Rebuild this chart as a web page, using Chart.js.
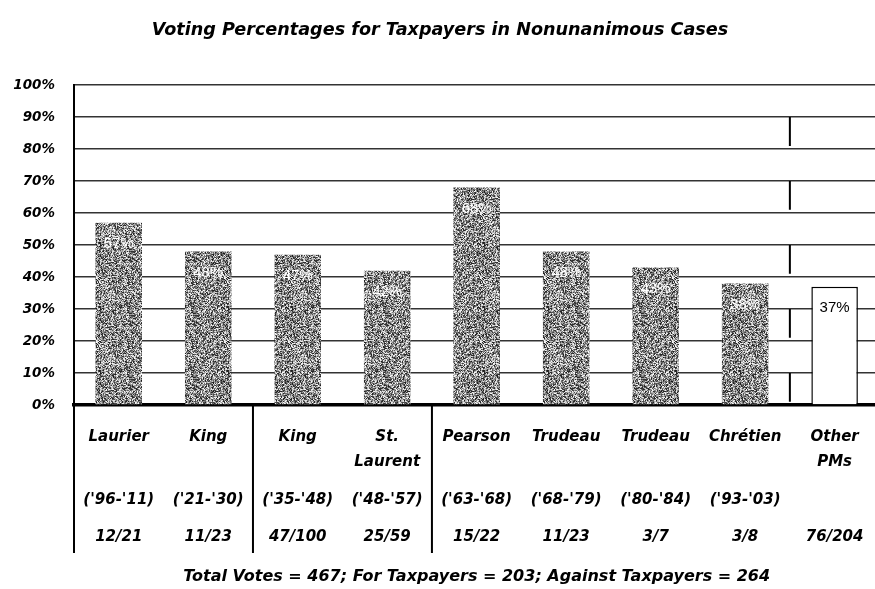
<!DOCTYPE html>
<html>
<head>
<meta charset="utf-8">
<title>Voting Percentages for Taxpayers</title>
<script src="https://cdn.jsdelivr.net/npm/chart.js@4.4.0/dist/chart.umd.min.js"></script>
<style>
  body { margin: 0; background: #fff; overflow: hidden; }
</style>
</head>
<body>
<canvas id="chart" width="890" height="589"></canvas>
<script>
var names = ['Laurier', 'King', 'King', 'St.', 'Pearson', 'Trudeau', 'Trudeau', 'Chrétien', 'Other']
var names2 = ['', '', '', 'Laurent', '', '', '', '', 'PMs']
var terms = ["('96-'11)", "('21-'30)", "('35-'48)", "('48-'57)", "('63-'68)", "('68-'79)", "('80-'84)", "('93-'03)", '']
var votes = ['12/21', '11/23', '47/100', '25/59', '15/22', '11/23', '3/7', '3/8', '76/204']
var percents = [57, 48, 47, 42, 68, 48, 43, 38, 37]
var footer = 'Total Votes = 467; For Taxpayers = 203; Against Taxpayers = 264'

var heavy = 'DejaVu Sans'

// multi-line tick labels, blank lines used as spacers
var labels = names.map(function(n, i){
    return [n, '', names2[i], '', '', terms[i], '', '', votes[i]]
})

// grainy grey fill like the scanned original
function speckle(){
    var c = document.createElement('canvas')
    c.width = 64; c.height = 64
    var g = c.getContext('2d')
    var img = g.createImageData(64, 64)
    for (var i = 0; i < img.data.length; i += 4) {
        var f = Math.sin(i * 12.9898 + 78.233) * 43758.5453
        f = f - Math.floor(f)
        var v = Math.floor(25 + f * 230)
        img.data[i] = v; img.data[i+1] = v; img.data[i+2] = v; img.data[i+3] = 255
    }
    g.putImageData(img, 0, 0)
    return g.createPattern(c, 'repeat')
}

var ctx = document.getElementById('chart').getContext('2d')
var grain = speckle()

var fills = percents.map(function(v, i){ return i === 8 ? '#fff' : grain })
var edges = percents.map(function(v, i){ return i === 8 ? '#000' : 'rgba(0,0,0,0)' })
var edgeW = percents.map(function(v, i){ return i === 8 ? 1.5 : 0 })

var valueLabels = {
    id: 'valueLabels',
    afterDatasetsDraw: function(chart){
        var meta = chart.getDatasetMeta(0), c = chart.ctx
        c.save()
        c.font = '15px "Liberation Sans"'
        c.textAlign = 'center'
        c.textBaseline = 'middle'
        meta.data.forEach(function(bar, i){
            c.fillStyle = i === 8 ? '#000' : '#fff'
            c.fillText(percents[i] + '%', bar.x, bar.y + 21)
        })
        c.restore()
    }
}

var dividers = {
    id: 'dividers',
    afterDraw: function(chart){
        var x = chart.scales.x, y = chart.scales.y, a = chart.chartArea, c = chart.ctx
        var mid = function(i){ return (x.getPixelForValue(i) + x.getPixelForValue(i + 1)) / 2 }
        c.save()
        c.strokeStyle = '#000'
        c.lineWidth = 2
        c.beginPath()
        ;[a.left, mid(1), mid(3)].forEach(function(px){
            c.moveTo(px, a.bottom)
            c.lineTo(px, a.bottom + 148)
        })
        // broken line before "Other PMs"
        var px = mid(7)
        for (var v = 90; v > 0; v -= 20) {
            c.moveTo(px, y.getPixelForValue(v))
            c.lineTo(px, y.getPixelForValue(v - 9))
        }
        c.stroke()
        c.restore()
    }
}

new Chart(ctx, {
    type: 'bar',
    data: {
        labels: labels,
        datasets: [{
            data: percents,
            backgroundColor: fills,
            borderColor: edges,
            borderWidth: edgeW,
            barPercentage: 0.52,
            categoryPercentage: 1
        }]
    },
    options: {
        responsive: false,
        animation: false,
        layout: { padding: { right: 10 } },
        plugins: {
            legend: { display: false },
            tooltip: { enabled: false },
            title: {
                display: true,
                text: 'Voting Percentages for Taxpayers in Nonunanimous Cases',
                color: '#000',
                font: { family: heavy, size: 17.6, weight: 'bold', style: 'italic', lineHeight: 1.2 },
                padding: { top: 20, bottom: 44 }
            }
        },
        scales: {
            y: {
                min: 0,
                max: 100,
                ticks: {
                    stepSize: 10,
                    color: '#000',
                    padding: 19,
                    font: { family: heavy, size: 13.5, weight: 'bold', style: 'italic' },
                    callback: function(v){ return v + '%' }
                },
                grid: { color: '#333', lineWidth: 1.5, drawTicks: false },
                border: { color: '#000', width: 2 },
                afterFit: function(s){ s.width = 74 }
            },
            x: {
                ticks: {
                    color: '#000',
                    padding: 26,
                    maxRotation: 0,
                    autoSkip: false,
                    font: { family: heavy, size: 15, weight: 'bold', style: 'italic', lineHeight: 0.833 }
                },
                grid: { display: false, drawTicks: false },
                border: { color: '#000', width: 3.5 },
                title: {
                    display: true,
                    text: footer,
                    color: '#000',
                    font: { family: heavy, size: 16, weight: 'bold', style: 'italic', lineHeight: 1.2 },
                    padding: { top: 0, bottom: 3 }
                },
                afterFit: function(s){ s.height = 184 }
            }
        }
    },
    plugins: [valueLabels, dividers]
})
</script>
</body>
</html>
